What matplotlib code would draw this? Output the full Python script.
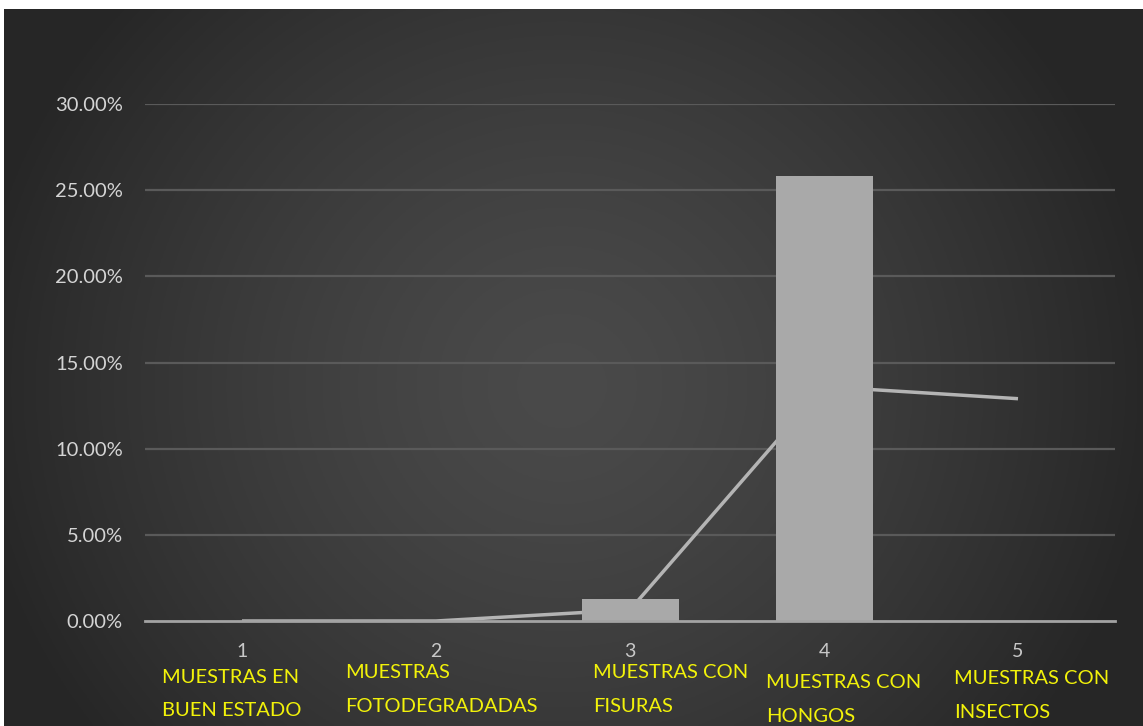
import numpy as np
import matplotlib
matplotlib.use("Agg")
import matplotlib.pyplot as plt

# chart data
categories = [1, 2, 3, 4, 5]
bar_values = [0.0, 0.0, 1.28, 25.8, 0.0]
line_values = [0.0, 0.0, 0.65, 13.6, 12.9]
category_names = [
    "MUESTRAS EN\nBUEN ESTADO",
    "MUESTRAS\nFOTODEGRADADAS",
    "MUESTRAS CON\nFISURAS",
    "MUESTRAS CON\nHONGOS",
    "MUESTRAS CON\nINSECTOS",
]
y_ticks = [0, 5, 10, 15, 20, 25, 30]

W, H = 1143, 726
fig = plt.figure(figsize=(W / 100, H / 100), dpi=100)
fig.patch.set_facecolor("white")

# dark radial background (leaves the thin white margin top/left)
bg = fig.add_axes([4 / W, 0, 1 - 4 / W, 1 - 9 / H])
bg.set_axis_off()
gx, gy = np.meshgrid(np.linspace(-1, 1, 400), np.linspace(-1, 1, 300))
r = np.sqrt(((gx + 0.02) / 1.05) ** 2 + ((gy - 0.05) / 1.6) ** 2)
shade = 0.29 - 0.14 * np.clip(r, 0, 1) ** 1.4
bg.imshow(np.dstack([shade] * 3), aspect="auto", extent=[0, 1, 0, 1])

# main plot area
x0, x1 = 145, 1115
y_zero, y_top = 621, 104
ax = fig.add_axes([x0 / W, (H - y_zero) / H, (x1 - x0) / W, (y_zero - y_top) / H])
ax.set_facecolor("none")
ax.set_xlim(0.5, 5.5)
ax.set_ylim(0, 30)

for t in y_ticks[1:]:
    ax.axhline(t, color="#5a5a5a", lw=1.6, zorder=0)

ax.bar(categories, bar_values, width=0.5, color="#a9a9a9", zorder=2)
ax.plot(categories, line_values, color="#b4b4b4", lw=2.5, zorder=1,
        solid_capstyle="butt")
ax.axhline(0, color="#a3a3a3", lw=2, zorder=3, clip_on=False)

for s in ax.spines.values():
    s.set_visible(False)

ax.set_yticks(y_ticks)
ax.set_yticklabels([f"{t:.2f}%" for t in y_ticks])
ax.tick_params(axis="y", length=0, pad=16, labelsize=14.5, labelcolor="#d4d4d4")
for lab in ax.get_yticklabels():
    lab.set_family("Lato")

ax.set_xticks(categories)
ax.set_xticklabels([str(c) for c in categories])
ax.tick_params(axis="x", length=0, pad=16, labelsize=14, labelcolor="#c8c8c8")
for lab in ax.get_xticklabels():
    lab.set_family("Lato")

# yellow category names, left aligned under each number
name_offsets = [-0.41, -0.47, -0.19, -0.30, -0.33]
name_y = [-0.092, -0.084, -0.083, -0.102, -0.095]
for c, name, dx, yy in zip(categories, category_names, name_offsets, name_y):
    ax.text(c + dx, yy, name, transform=ax.get_xaxis_transform(),
            ha="left", va="top", color="#f2f20a", fontsize=14.5,
            family="Lato", linespacing=2.2)

fig.savefig("out.png", dpi=100)
